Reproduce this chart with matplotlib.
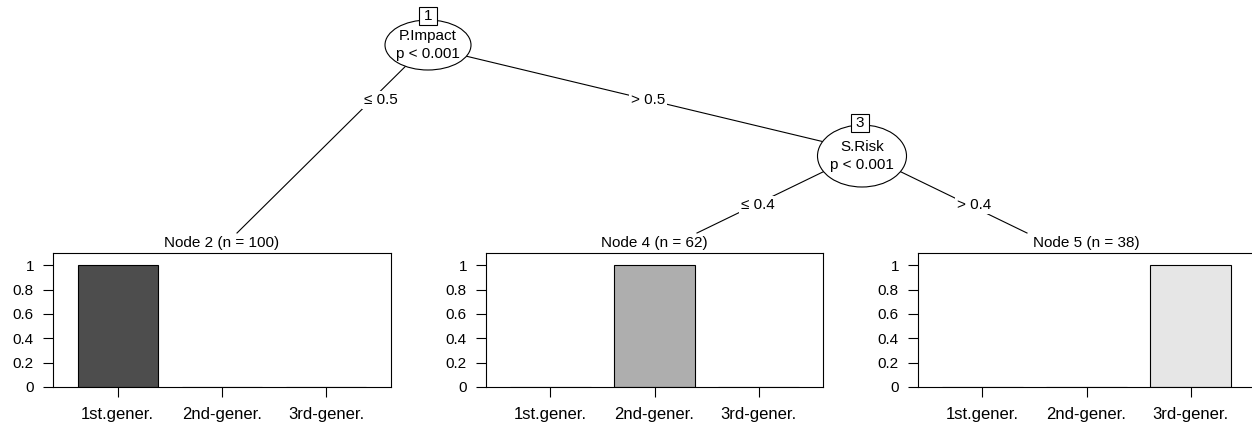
import matplotlib
matplotlib.use("Agg")
import matplotlib.pyplot as plt
from matplotlib.patches import Ellipse, Rectangle

plt.rcParams['font.family'] = ['Liberation Sans', 'DejaVu Sans']

# ---- data ----
categories = ["1st.gener.", "2nd-gener.", "3rd-gener."]
node_ids = [2, 4, 5]
node_n = [100, 62, 38]
node2_props = [1.0, 0.0, 0.0]
node4_props = [0.0, 1.0, 0.0]
node5_props = [0.0, 0.0, 1.0]
bar_colors = ["#4D4D4D", "#AEAEAE", "#E6E6E6"]
inner_ids = [1, 3]
inner_vars = ["P.Impact", "S.Risk"]
inner_pvals = ["p < 0.001", "p < 0.001"]
edge_labels = ["\u2264 0.5", "> 0.5", "\u2264 0.4", "> 0.4"]
yticks = [0, 0.2, 0.4, 0.6, 0.8, 1]
yticklabels = ["0", "0.2", "0.4", "0.6", "0.8", "1"]

W, H = 1252, 426
fig = plt.figure(figsize=(W / 100, H / 100), dpi=100)
bg = fig.add_axes([0, 0, 1, 1])
bg.set_xlim(0, W)
bg.set_ylim(H, 0)
bg.axis("off")

lw = 0.8
fs = 11

# edges (drawn under nodes)
edges = [((425, 47), (237, 233)), ((428, 47), (862, 151)),
         ((862, 153), (697, 233)), ((862, 153), (1027, 233))]
for (x0, y0), (x1, y1) in edges:
    bg.plot([x0, x1], [y0, y1], color="black", lw=lw, zorder=1)

label_pos = [(381, 100), (648, 100), (758, 205), (974, 205)]
for (lx, ly), txt in zip(label_pos, edge_labels):
    bg.text(lx, ly, txt, ha="center", va="center", fontsize=fs, zorder=3,
            bbox=dict(facecolor="white", edgecolor="none", pad=1.5))

# inner nodes
node_geom = [((428, 45), 86, 50, (428, 16)), ((862, 156), 89, 62, (860, 123))]
for (c, w, h, bpos), nid, var, pv in zip(node_geom, inner_ids, inner_vars, inner_pvals):
    bg.add_patch(Ellipse(c, w, h, facecolor="white", edgecolor="black", lw=lw, zorder=4))
    bg.text(c[0], c[1] - 9, var, ha="center", va="center", fontsize=fs, zorder=5)
    bg.text(c[0], c[1] + 9, pv, ha="center", va="center", fontsize=fs, zorder=5)
    bg.add_patch(Rectangle((bpos[0] - 9, bpos[1] - 9), 18, 18, facecolor="white",
                           edgecolor="black", lw=lw, zorder=6))
    bg.text(bpos[0], bpos[1], str(nid), ha="center", va="center", fontsize=fs, zorder=7)

# terminal panels
panels_px = [(53, 391), (486, 823), (918, 1255)]
top, bottom = 253, 387
all_props = [node2_props, node4_props, node5_props]
xpos = [1, 2, 3]
for (L, R), props, nid, n in zip(panels_px, all_props, node_ids, node_n):
    ax = fig.add_axes([L / W, 1 - bottom / H, (R - L) / W, (bottom - top) / H])
    ax.bar(xpos, props, width=0.77, color=bar_colors, edgecolor="black", linewidth=lw)
    ax.set_xlim(0.38, 3.62)
    ax.set_ylim(0, 1.1)
    ax.set_yticks(yticks)
    ax.set_yticklabels(yticklabels)
    ax.set_xticks(xpos)
    ax.set_xticklabels(categories)
    ax.tick_params(axis="both", direction="out", length=7.2, width=lw, labelsize=fs)
    ax.tick_params(axis="y", pad=6.5)
    ax.tick_params(axis="x", pad=7.5, labelsize=12)
    for s in ax.spines.values():
        s.set_linewidth(lw)
    bg.text((L + R) / 2, 243, f"Node {nid} (n = {n})", ha="center", va="center",
            fontsize=fs, zorder=5)

fig.savefig("out.png", dpi=100, facecolor="white")
